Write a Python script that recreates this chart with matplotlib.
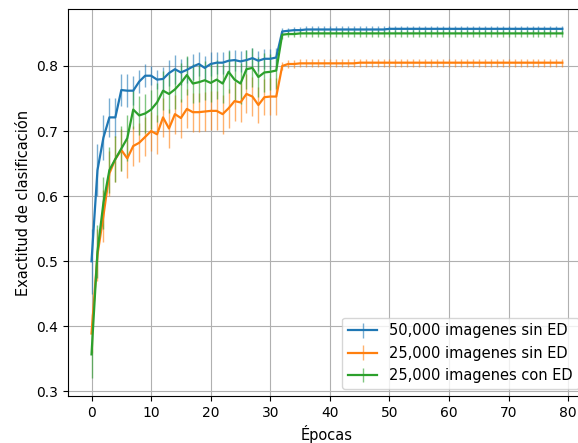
import numpy as np
import matplotlib
matplotlib.use("Agg")
import matplotlib.pyplot as plt
from matplotlib.colors import to_rgba

epocas = np.arange(80)

# exactitud media por epoca
acc_50k_sin = [
    0.500, 0.640, 0.690, 0.721, 0.721, 0.763, 0.762, 0.762, 0.776, 0.785,
    0.785, 0.779, 0.780, 0.789, 0.795, 0.790, 0.794, 0.799, 0.803, 0.797,
    0.803, 0.805, 0.805, 0.808, 0.809, 0.807, 0.809, 0.812, 0.808, 0.811,
    0.811, 0.813, 0.853, 0.854, 0.855, 0.855, 0.856, 0.856, 0.856, 0.856,
    0.856, 0.856, 0.856, 0.856, 0.856, 0.856, 0.856, 0.856, 0.856, 0.856,
    0.857, 0.857, 0.857, 0.857, 0.857, 0.857, 0.857, 0.857, 0.857, 0.857,
    0.857, 0.857, 0.857, 0.857, 0.857, 0.857, 0.857, 0.857, 0.857, 0.857,
    0.857, 0.857, 0.857, 0.857, 0.857, 0.857, 0.857, 0.857, 0.857, 0.857,
]
acc_25k_sin = [
    0.389, 0.510, 0.570, 0.635, 0.657, 0.671, 0.658, 0.677, 0.682, 0.691,
    0.700, 0.695, 0.721, 0.704, 0.726, 0.720, 0.734, 0.729, 0.729, 0.730,
    0.731, 0.731, 0.726, 0.735, 0.746, 0.744, 0.757, 0.753, 0.740, 0.752,
    0.753, 0.753, 0.800, 0.803, 0.803, 0.804, 0.804, 0.804, 0.804, 0.804,
    0.804, 0.804, 0.804, 0.804, 0.804, 0.805, 0.805, 0.805, 0.805, 0.805,
    0.805, 0.805, 0.805, 0.805, 0.805, 0.805, 0.805, 0.805, 0.805, 0.805,
    0.805, 0.805, 0.805, 0.805, 0.805, 0.805, 0.805, 0.805, 0.805, 0.805,
    0.805, 0.805, 0.805, 0.805, 0.805, 0.805, 0.805, 0.805, 0.805, 0.805,
]
acc_25k_con = [
    0.357, 0.515, 0.590, 0.640, 0.657, 0.673, 0.689, 0.733, 0.724, 0.727,
    0.733, 0.744, 0.762, 0.757, 0.764, 0.774, 0.786, 0.773, 0.775, 0.778,
    0.774, 0.779, 0.773, 0.791, 0.779, 0.773, 0.795, 0.797, 0.783, 0.790,
    0.791, 0.793, 0.848, 0.849, 0.849, 0.850, 0.850, 0.850, 0.850, 0.850,
    0.850, 0.850, 0.850, 0.850, 0.850, 0.850, 0.850, 0.850, 0.850, 0.850,
    0.850, 0.850, 0.850, 0.850, 0.850, 0.850, 0.850, 0.850, 0.850, 0.850,
    0.850, 0.850, 0.850, 0.850, 0.850, 0.850, 0.850, 0.850, 0.850, 0.850,
    0.850, 0.850, 0.850, 0.850, 0.850, 0.850, 0.850, 0.850, 0.850, 0.850,
]

# desviacion estandar por epoca
std_50k_sin = [
    0.050, 0.040, 0.035, 0.030, 0.030, 0.025, 0.025, 0.022, 0.018, 0.018,
    0.015, 0.015, 0.018, 0.020, 0.022, 0.020, 0.020, 0.020, 0.018, 0.018,
    0.018, 0.017, 0.017, 0.017, 0.016, 0.016, 0.016, 0.015, 0.015, 0.015,
    0.015, 0.015, 0.005, 0.005, 0.005, 0.005, 0.005, 0.005, 0.005, 0.005,
    0.005, 0.005, 0.005, 0.005, 0.005, 0.005, 0.005, 0.005, 0.005, 0.005,
    0.005, 0.005, 0.005, 0.005, 0.005, 0.005, 0.005, 0.005, 0.005, 0.005,
    0.005, 0.005, 0.005, 0.005, 0.005, 0.005, 0.005, 0.005, 0.005, 0.005,
    0.005, 0.005, 0.005, 0.005, 0.005, 0.005, 0.005, 0.005, 0.005, 0.005,
]
std_25k_sin = [
    0.030, 0.040, 0.040, 0.035, 0.035, 0.032, 0.030, 0.030, 0.030, 0.030,
    0.030, 0.030, 0.030, 0.030, 0.030, 0.030, 0.030, 0.030, 0.030, 0.030,
    0.030, 0.030, 0.030, 0.030, 0.030, 0.030, 0.030, 0.030, 0.028, 0.028,
    0.028, 0.028, 0.006, 0.006, 0.006, 0.006, 0.006, 0.006, 0.006, 0.006,
    0.006, 0.006, 0.006, 0.006, 0.006, 0.006, 0.006, 0.006, 0.006, 0.006,
    0.006, 0.006, 0.006, 0.006, 0.006, 0.006, 0.006, 0.006, 0.006, 0.006,
    0.006, 0.006, 0.006, 0.006, 0.006, 0.006, 0.006, 0.006, 0.006, 0.006,
    0.006, 0.006, 0.006, 0.006, 0.006, 0.006, 0.006, 0.006, 0.006, 0.006,
]
std_25k_con = [
    0.037, 0.040, 0.040, 0.035, 0.035, 0.035, 0.035, 0.030, 0.030, 0.030,
    0.030, 0.030, 0.030, 0.030, 0.030, 0.030, 0.030, 0.030, 0.030, 0.030,
    0.030, 0.030, 0.030, 0.032, 0.032, 0.032, 0.030, 0.030, 0.030, 0.030,
    0.028, 0.028, 0.006, 0.005, 0.005, 0.005, 0.005, 0.005, 0.005, 0.005,
    0.005, 0.005, 0.005, 0.005, 0.005, 0.005, 0.005, 0.005, 0.005, 0.005,
    0.005, 0.005, 0.005, 0.005, 0.005, 0.005, 0.005, 0.005, 0.005, 0.005,
    0.005, 0.005, 0.005, 0.005, 0.005, 0.005, 0.005, 0.005, 0.005, 0.005,
    0.005, 0.005, 0.005, 0.005, 0.005, 0.005, 0.005, 0.005, 0.005, 0.005,
]

series = [
    (acc_50k_sin, std_50k_sin, "50,000 imagenes sin ED", "C0"),
    (acc_25k_sin, std_25k_sin, "25,000 imagenes sin ED", "C1"),
    (acc_25k_con, std_25k_con, "25,000 imagenes con ED", "C2"),
]

fig = plt.figure(figsize=(5.78, 4.43), dpi=100)
# el eje se sale un poco por la derecha, como en la captura original
ax = fig.add_axes([0.1176, 0.106, 0.896, 0.873])

for acc, std, label, col in series:
    ax.errorbar(epocas, acc, yerr=std, label=label, color=col,
                ecolor=to_rgba(col, 0.6), linewidth=1.6, elinewidth=1.0)

ax.set_xlim(-3.95, 82.95)
ax.set_ylim(0.293, 0.887)
ax.set_xticks([0, 10, 20, 30, 40, 50, 60, 70, 80])
ax.set_xlabel("Épocas", fontsize=10.5)
ax.set_ylabel("Exactitud de clasificación", fontsize=10.5)
ax.grid(True)
ax.legend(loc="lower right", fontsize=10.5)

fig.savefig("out.png", dpi=100)
